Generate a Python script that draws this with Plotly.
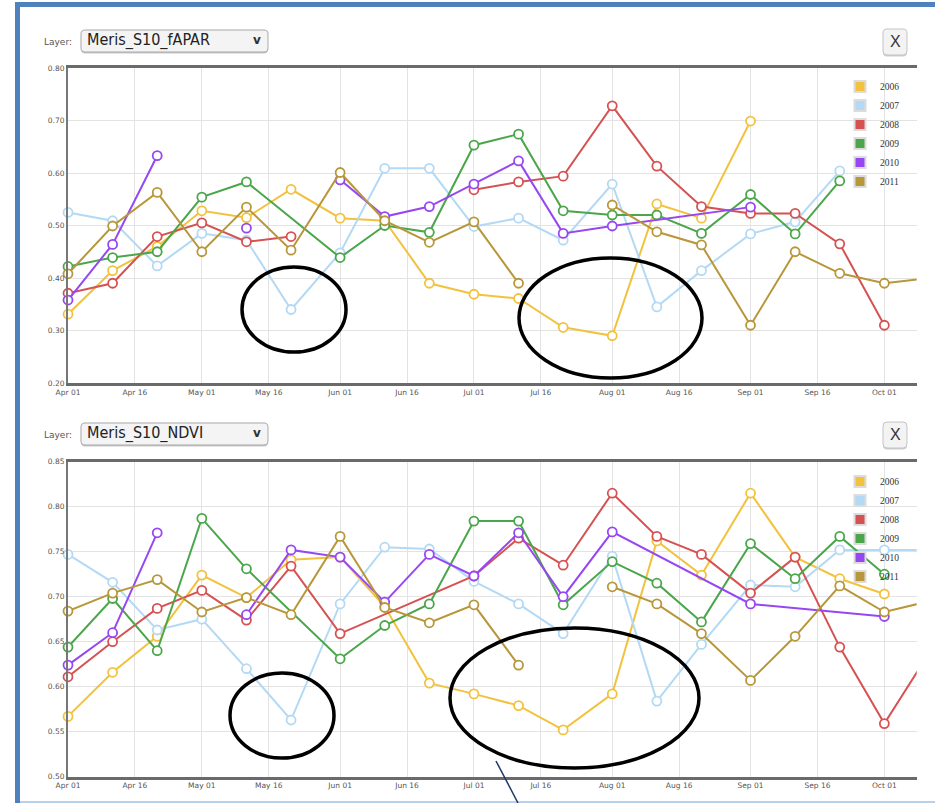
import datetime as dt
import plotly.graph_objects as go

W, H = 935, 803
YEAR = 2011
GAP = "gap"  # missing value where the line breaks; None = missing, line bridges over it

DEKADS = ["04-01", "04-11", "04-21", "05-01", "05-11", "05-21", "06-01", "06-11", "06-21",
          "07-01", "07-11", "07-21", "08-01", "08-11", "08-21", "09-01", "09-11", "09-21",
          "10-01", "10-11"]

TICK_DATES = ["04-01", "04-16", "05-01", "05-16", "06-01", "06-16", "07-01", "07-16",
              "08-01", "08-16", "09-01", "09-16", "10-01"]
TICK_LABELS = ["Apr 01", "Apr 16", "May 01", "May 16", "Jun 01", "Jun 16", "Jul 01",
               "Jul 16", "Aug 01", "Aug 16", "Sep 01", "Sep 16", "Oct 01"]

YEARS = ["2006", "2007", "2008", "2009", "2010", "2011"]
COLORS = ["#f2c23e", "#b3d9f4", "#d65252", "#4ba64b", "#9747f2", "#b8973a"]

LAYER_NAMES = ["Meris_S10_fAPAR", "Meris_S10_NDVI"]

FAPAR_TICKS = [0.20, 0.30, 0.40, 0.50, 0.60, 0.70, 0.80]
NDVI_TICKS = [0.50, 0.55, 0.60, 0.65, 0.70, 0.75, 0.80, 0.85]

FAPAR_2006 = [0.331, 0.414, 0.46, 0.528, 0.515, 0.569, 0.514, 0.509, 0.390, 0.369, 0.361, 0.306,
              0.290, 0.541, 0.514, 0.699, None, None, None, None]
FAPAR_2007 = [0.525, 0.509, 0.423, 0.485, 0.472, 0.340, 0.448, 0.609, 0.609, 0.498, 0.514, 0.472,
              0.579, 0.345, 0.414, 0.484, 0.507, 0.604, None, None]
FAPAR_2008 = [0.371, 0.390, 0.479, 0.505, 0.469, 0.479, GAP, GAP, GAP, 0.568, 0.583, 0.594,
              0.728, 0.613, 0.536, 0.523, 0.523, 0.465, 0.310, None]
FAPAR_2009 = [0.422, 0.439, 0.450, 0.554, 0.583, None, 0.439, 0.500, 0.487, 0.653, 0.674, 0.528,
              0.520, 0.520, 0.485, 0.559, 0.484, 0.585, None, None]
FAPAR_2010 = [0.358, 0.464, 0.633, GAP, 0.495, GAP, 0.587, 0.517, 0.536, 0.579, 0.623, 0.485,
              0.499, None, None, 0.535, None, None, None, None]
FAPAR_2011 = [0.408, 0.499, 0.563, 0.450, 0.535, 0.453, 0.601, 0.509, 0.468, 0.507, 0.390, GAP,
              0.539, 0.488, 0.463, 0.310, 0.450, 0.409, 0.390, 0.400]

NDVI_2006 = [0.567, 0.616, 0.656, 0.724, 0.699, 0.741, 0.744, 0.689, 0.604, 0.592, 0.579, 0.552,
             0.592, 0.762, 0.724, 0.815, 0.744, 0.720, 0.703, None]
NDVI_2007 = [0.747, 0.716, 0.663, 0.675, 0.620, 0.563, 0.692, 0.755, 0.753, 0.717, 0.692, 0.659,
             0.745, 0.584, 0.647, 0.713, 0.711, 0.752, 0.752, 0.752]
NDVI_2008 = [0.611, 0.650, 0.687, 0.707, 0.674, 0.734, 0.659, None, None, 0.723, 0.765, 0.735,
             0.815, 0.767, 0.747, 0.704, 0.744, 0.644, 0.559, 0.637]
NDVI_2009 = [0.644, 0.698, 0.640, 0.787, 0.731, None, 0.631, 0.668, 0.692, 0.784, 0.784, 0.691,
             0.739, 0.715, 0.672, 0.759, 0.720, 0.767, 0.725, None]
NDVI_2010 = [0.624, 0.660, 0.771, GAP, 0.680, 0.752, 0.744, 0.694, 0.747, 0.723, 0.771, 0.700,
             0.772, None, None, 0.692, None, None, 0.678, None]
NDVI_2011 = [0.684, 0.704, 0.719, 0.683, 0.699, 0.680, 0.767, 0.688, 0.671, 0.691, 0.624, GAP,
             0.711, 0.692, 0.659, 0.607, 0.656, 0.712, 0.683, 0.695]

FAPAR = [FAPAR_2006, FAPAR_2007, FAPAR_2008, FAPAR_2009, FAPAR_2010, FAPAR_2011]
NDVI = [NDVI_2006, NDVI_2007, NDVI_2008, NDVI_2009, NDVI_2010, NDVI_2011]

X_START = dt.datetime(YEAR, 4, 1)
X_END = dt.datetime(YEAR, 10, 8, 6)


def to_date(md):
    m, d = md.split("-")
    return dt.datetime(YEAR, int(m), int(d))


def px(x):
    return x / W


def py(y):
    return 1 - y / H


def build(values):
    xs, ys = [], []
    for d, v in zip(DEKADS, values):
        if v is None:
            continue
        xs.append(to_date(d))
        ys.append(None if v == GAP else v)
    return xs, ys


fig = go.Figure()

for panel, (data, xa, ya, leg) in enumerate([(FAPAR, "x", "y", "legend"), (NDVI, "x2", "y2", "legend2")]):
    for name, color, vals in zip(YEARS, COLORS, data):
        xs, ys = build(vals)
        opac = [1 if x <= X_END else 0 for x in xs]
        fig.add_trace(go.Scatter(
            x=xs, y=ys, mode="lines+markers", name=name, showlegend=False,
            xaxis=xa, yaxis=ya, connectgaps=False, cliponaxis=False,
            line=dict(color=color, width=2),
            marker=dict(symbol="circle", size=9, color="white", opacity=opac,
                        line=dict(color=color, width=1.8)),
            hoverinfo="skip",
        ))
    for name, color in zip(YEARS, COLORS):
        fig.add_trace(go.Scatter(
            x=[None], y=[None], mode="markers", name=name, showlegend=True,
            xaxis=xa, yaxis=ya, legend=leg,
            marker=dict(symbol="square", size=11, color=color, line=dict(color="#dcdcdc", width=2)),
        ))

tickvals = [to_date(d) for d in TICK_DATES]
xcommon = dict(
    type="date", range=[X_START, X_END], tickvals=tickvals, ticktext=TICK_LABELS,
    showgrid=True, gridcolor="#e3e3e3", gridwidth=1, zeroline=False, automargin=False,
    showline=True, mirror=True, linecolor="#6a6a6a", linewidth=2.5,
    ticks="", tickfont=dict(size=7.5, color="#555", family="DejaVu Sans"),
    domain=[px(68), px(916.7)],
)
ycommon = dict(
    showgrid=True, gridcolor="#e3e3e3", gridwidth=1, zeroline=False, automargin=False,
    showline=True, mirror=False, linecolor="#777", linewidth=2,
    ticks="", tickfont=dict(size=7.5, color="#555", family="DejaVu Sans"), tickformat=".2f",
)

fig.update_layout(
    width=W, height=H, margin=dict(l=0, r=0, t=0, b=0, autoexpand=False),
    paper_bgcolor="white", plot_bgcolor="white",
    xaxis=dict(xcommon, anchor="y"),
    yaxis=dict(ycommon, range=[FAPAR_TICKS[0], FAPAR_TICKS[-1]], tickvals=FAPAR_TICKS,
               domain=[py(383), py(68)], anchor="x"),
    xaxis2=dict(xcommon, anchor="y2"),
    yaxis2=dict(ycommon, range=[NDVI_TICKS[0], NDVI_TICKS[-1]], tickvals=NDVI_TICKS,
                domain=[py(776.7), py(461.7)], anchor="x2"),
    legend=dict(x=px(840), y=py(72), xanchor="left", yanchor="top",
                font=dict(size=9.5, color="#333", family="Liberation Serif"),
                bgcolor="rgba(0,0,0,0)", itemwidth=30),
    legend2=dict(x=px(840), y=py(467), xanchor="left", yanchor="top",
                 font=dict(size=9.5, color="#333", family="Liberation Serif"),
                 bgcolor="rgba(0,0,0,0)", itemwidth=30),
    showlegend=True,
)


def rrect(x0, y0, x1, y1, r):
    def P(x, y):
        return f"{x / W:.5f},{1 - y / H:.5f}"
    return (f"M {P(x0 + r, y0)} L {P(x1 - r, y0)} Q {P(x1, y0)} {P(x1, y0 + r)} "
            f"L {P(x1, y1 - r)} Q {P(x1, y1)} {P(x1 - r, y1)} L {P(x0 + r, y1)} "
            f"Q {P(x0, y1)} {P(x0, y1 - r)} L {P(x0, y0 + r)} Q {P(x0, y0)} {P(x0 + r, y0)} Z")


shapes = []
annotations = []
for top, layer in zip([30, 423], LAYER_NAMES):
    # dropdown
    shapes.append(dict(type="path", xref="paper", yref="paper", path=rrect(81, top + 1.5, 268, top + 23.5, 4),
                       fillcolor="#c9c9c9", line=dict(width=0), layer="above"))
    shapes.append(dict(type="path", xref="paper", yref="paper", path=rrect(81, top, 268, top + 22, 4),
                       fillcolor="#f4f4f4", line=dict(color="#a8a8a8", width=1), layer="above"))
    # close button
    shapes.append(dict(type="path", xref="paper", yref="paper", path=rrect(883, top + 0.5, 907, top + 26.5, 4),
                       fillcolor="#cfcfcf", line=dict(width=0), layer="above"))
    shapes.append(dict(type="path", xref="paper", yref="paper", path=rrect(883, top - 1, 907, top + 25, 4),
                       fillcolor="#f3f3f3", line=dict(color="#c4c4c4", width=1), layer="above"))
    annotations += [
        dict(text="Layer:", x=px(74), y=py(top + 12), xref="paper", yref="paper", xanchor="right",
             yanchor="middle", showarrow=False, font=dict(size=9, color="#555", family="DejaVu Sans")),
        dict(text=layer, x=px(85), y=py(top + 10), xref="paper", yref="paper", xanchor="left",
             yanchor="middle", showarrow=False,
             font=dict(size=16, color="#222", family="DejaVu Sans Condensed, Liberation Sans")),
        dict(text="<b>v</b>", x=px(257), y=py(top + 10), xref="paper", yref="paper", xanchor="center",
             yanchor="middle", showarrow=False, font=dict(size=12, color="#333", family="DejaVu Sans")),
        dict(text="X", x=px(895), y=py(top + 12), xref="paper", yref="paper", xanchor="center",
             yanchor="middle", showarrow=False, font=dict(size=16, color="#333", family="Liberation Sans")),
    ]

# hand-drawn ellipses
for (x0, y0, x1, y1) in [(242, 267, 346, 352), (519, 258, 702, 378), (230, 673, 334, 758), (450, 628, 699, 768)]:
    shapes.append(dict(type="circle", xref="paper", yref="paper", x0=px(x0), x1=px(x1), y0=py(y1), y1=py(y0),
                       line=dict(color="black", width=3.5), layer="above"))

# blue frame and pointer line
shapes += [
    dict(type="line", xref="paper", yref="paper", x0=px(17.5), x1=px(17.5), y0=py(2), y1=py(803),
         line=dict(color="#4f81bd", width=5), layer="above"),
    dict(type="line", xref="paper", yref="paper", x0=px(15), x1=px(935), y0=py(4.5), y1=py(4.5),
         line=dict(color="#4f81bd", width=5), layer="above"),
    dict(type="line", xref="paper", yref="paper", x0=px(20), x1=px(935), y0=py(802), y1=py(802),
         line=dict(color="#b9d0ea", width=2), layer="above"),
    dict(type="line", xref="paper", yref="paper", x0=px(496), x1=px(518), y0=py(761), y1=py(803),
         line=dict(color="#1f3a68", width=1.5), layer="above"),
]

fig.update_layout(shapes=shapes, annotations=annotations)

fig.write_html("out.html", config={"displayModeBar": False},
               post_script="document.body.style.margin='0';")
